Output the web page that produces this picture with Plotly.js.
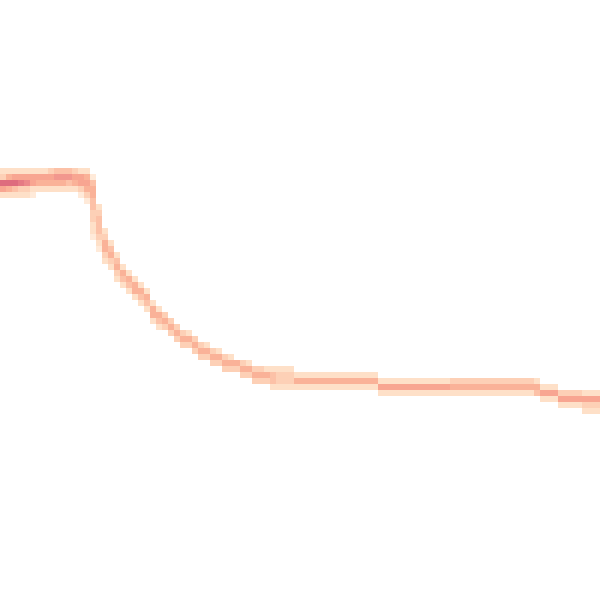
<!DOCTYPE html>
<html>
<head>
<meta charset="utf-8">
<script src="https://cdn.plot.ly/plotly-3.0.1.min.js"></script>
<style>
  html, body { margin: 0; padding: 0; background: #ffffff; }
  #chart { width: 600px; height: 600px; }
</style>
</head>
<body>
<div id="chart"></div>
<script>
// Grid size of the density map (columns x rows)
const nCols = 100;
const nRows = 100;

// For each column: first row index of the band
const bandTop = [
    28, 28, 28, 28, 28, 28, 28, 28, 28, 28,
    28, 28, 28, 28, 28, 29, 34, 38, 40, 42,
    44, 45, 46, 47, 48, 50, 51, 52, 53, 54,
    55, 55, 56, 57, 57, 58, 58, 59, 59, 60,
    60, 60, 61, 61, 61, 61, 61, 61, 61, 62,
    62, 62, 62, 62, 62, 62, 62, 62, 62, 62,
    62, 62, 62, 63, 63, 63, 63, 63, 63, 63,
    63, 63, 63, 63, 63, 63, 63, 63, 63, 63,
    63, 63, 63, 63, 63, 63, 63, 63, 63, 63,
    64, 64, 64, 65, 65, 65, 65, 65, 65, 65
];

// For each column: counts in the band, top to bottom
const bandVals = [
    [2, 3, 10, 6, 2], [2, 5, 10, 5, 2], [2, 6, 10, 4, 2], [2, 6, 9, 3, 2], [2, 6, 8, 3, 2],
    [2, 6, 6, 2, 1], [2, 6, 5, 2], [2, 6, 5, 2], [3, 6, 5, 2], [4, 7, 5, 2],
    [4, 7, 5, 2], [4, 7, 4, 2], [3, 6, 5, 2], [2, 6, 6, 3, 1], [2, 5, 6, 5, 3, 1],
    [1, 4, 5, 5, 4, 4, 3, 3, 2, 2, 1], [2, 3, 4, 4, 4, 3, 2, 1], [2, 3, 5, 5, 3, 2], [2, 4, 5, 3, 2], [2, 4, 5, 3, 2],
    [2, 5, 4, 2], [2, 5, 4, 2], [2, 5, 5, 2], [2, 5, 4, 2], [2, 5, 4, 2],
    [2, 5, 5, 2], [2, 5, 4, 2], [3, 5, 3], [3, 5, 3], [3, 5, 3],
    [3, 5, 3], [2, 5, 3], [3, 5, 3], [3, 5, 3], [2, 5, 3],
    [3, 5, 3], [2, 5, 3], [3, 5, 3], [2, 5, 3], [5, 3],
    [3, 5, 3], [2, 5, 3], [3, 5, 3], [3, 5, 3], [2, 5, 3],
    [2, 4, 4, 2], [2, 3, 3, 2], [2, 3, 3, 2], [2, 3, 3, 2], [2, 5, 2],
    [2, 5, 2], [2, 5, 2], [2, 5, 2], [2, 5, 2], [2, 5, 2],
    [2, 5, 2], [2, 5, 2], [2, 5, 2], [2, 5, 2], [2, 5, 2],
    [2, 5, 2], [2, 5, 2], [2, 5, 2], [2, 6, 2], [2, 6, 2],
    [2, 6, 2], [2, 6, 2], [2, 6, 2], [2, 6, 2], [2, 6, 2],
    [2, 6, 2], [2, 6, 2], [2, 6, 2], [2, 6, 2], [2, 6, 2],
    [3, 5, 2], [3, 5, 2], [3, 5, 2], [3, 5, 2], [3, 5, 2],
    [3, 5, 2], [3, 5, 2], [3, 5, 2], [3, 5, 2], [3, 5, 2],
    [3, 5, 2], [3, 5, 2], [3, 5, 2], [3, 5, 2], [2, 5, 4],
    [2, 6, 2], [2, 6, 2], [2, 6, 2], [3, 6, 2], [3, 6, 2],
    [3, 6, 2], [3, 6, 2], [2, 6, 3, 2], [2, 6, 3, 2], [2, 6, 3, 2]
];

// Build the z grid; empty cells stay null (not drawn)
const z = [];
for (let r = 0; r < nRows; r++) {
    z.push(new Array(nCols).fill(null));
}
bandVals.forEach((vals, c) => {
    vals.forEach((v, i) => {
        const r = bandTop[c] + i;
        if (r < nRows) z[r][c] = v;
    });
});

const trace = {
    type: 'heatmap',
    z: z,
    x: Array.from({ length: nCols }, (_, i) => i),
    y: Array.from({ length: nRows }, (_, i) => i),
    zmin: 0,
    zmax: 10,
    colorscale: [
        [0.0, 'rgb(255,244,234)'],
        [0.2, 'rgb(254,224,200)'],
        [0.3, 'rgb(253,208,182)'],
        [0.5, 'rgb(250,178,152)'],
        [0.6, 'rgb(248,165,145)'],
        [0.8, 'rgb(236,136,138)'],
        [1.0, 'rgb(222,108,126)']
    ],
    showscale: false,
    hoverinfo: 'none'
};

const layout = {
    width: 600,
    height: 600,
    margin: { l: 0, r: 0, t: 0, b: 0 },
    xaxis: { visible: false, range: [-0.5, nCols - 0.5] },
    yaxis: { visible: false, range: [nRows - 0.5, -0.5] },
    paper_bgcolor: '#ffffff',
    plot_bgcolor: '#ffffff'
};

Plotly.newPlot('chart', [trace], layout, { displayModeBar: false, staticPlot: true });
</script>
</body>
</html>
